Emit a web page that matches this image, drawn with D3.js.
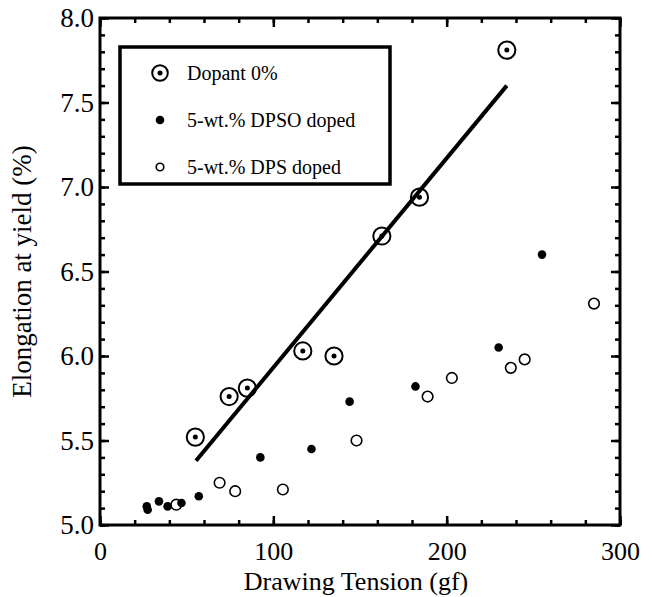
<!DOCTYPE html>
<html>
<head>
<meta charset="utf-8">
<script src="https://cdn.jsdelivr.net/npm/d3@7"></script>
<style>
  body { margin: 0; background: #fff; }
  text { font-family: "Liberation Serif", "Times New Roman", serif; fill: #000; }
</style>
</head>
<body>
<svg id="chart"></svg>
<script>
// Data
const dopantX = [55, 74.5, 85, 117, 135, 162.6, 184.3, 234.7];
const dopantY = [5.52, 5.76, 5.81, 6.03, 6.0, 6.71, 6.94, 7.81];

const dpsoX = [27, 27.5, 34, 39, 47, 57, 92.5, 122, 144, 182, 230, 255];
const dpsoY = [5.11, 5.09, 5.14, 5.11, 5.13, 5.17, 5.4, 5.45, 5.73, 5.82, 6.05, 6.6];

const dpsX = [44, 69, 78, 105.5, 148, 189, 203, 237, 245, 285];
const dpsY = [5.12, 5.25, 5.2, 5.21, 5.5, 5.76, 5.87, 5.93, 5.98, 6.31];

// fitted line through Dopant 0%
const fitX = [55.4, 234.7];
const fitY = [5.38, 7.6];

const xTicks = [0, 100, 200, 300];
const yTicks = [5.0, 5.5, 6.0, 6.5, 7.0, 7.5, 8.0];
const legendLabels = ["Dopant 0%", "5-wt.% DPSO doped", "5-wt.% DPS doped"];

// Dimensions
const W = 652, H = 597;
const margin = { top: 18, right: 32, bottom: 72, left: 100 };
const width = W - margin.left - margin.right;
const height = H - margin.top - margin.bottom;

const svg = d3.select("#chart").attr("width", W).attr("height", H);
const g = svg.append("g").attr("transform", `translate(${margin.left},${margin.top})`);

const x = d3.scaleLinear().domain([0, 300]).range([0, width]);
const y = d3.scaleLinear().domain([5, 8]).range([height, 0]);

const minorX = d3.range(0, 301, 20);
const minorY = d3.range(50, 81, 1).map((d) => d / 10);

// inward ticks on all four sides
function addAxis(axisFn, scale, ticks, size, labels, transform) {
  const ax = g.append("g")
    .attr("transform", transform)
    .call(axisFn(scale).tickValues(ticks).tickSizeInner(-size).tickSizeOuter(0)
      .tickPadding(axisFn === d3.axisBottom ? 17 : 6)
      .tickFormat(labels ? d3.format(".1f") : ""));
  ax.select(".domain").remove();
  ax.selectAll("line").attr("stroke", "#000").attr("stroke-width", 2.5);
  return ax;
}
addAxis(d3.axisBottom, x, minorX, 5, false, `translate(0,${height})`);
addAxis(d3.axisTop, x, minorX, 5, false, "translate(0,0)");
addAxis(d3.axisLeft, y, minorY, 5, false, "translate(0,0)");
addAxis(d3.axisRight, y, minorY, 5, false, `translate(${width},0)`);

const bx = addAxis(d3.axisBottom, x, xTicks, 9, true, `translate(0,${height})`);
bx.selectAll("text").text((d) => d).style("font-size", "26px");
addAxis(d3.axisTop, x, xTicks, 9, false, "translate(0,0)");
const ly = addAxis(d3.axisLeft, y, yTicks, 9, true, "translate(0,0)");
ly.selectAll("text").style("font-size", "27px");
addAxis(d3.axisRight, y, yTicks, 9, false, `translate(${width},0)`);

// frame
g.append("rect")
  .attr("width", width).attr("height", height)
  .attr("fill", "none").attr("stroke", "#000").attr("stroke-width", 3);

// axis titles
svg.append("text")
  .attr("x", margin.left + width / 2 - 4).attr("y", 590)
  .attr("text-anchor", "middle").style("font-size", "26px")
  .text("Drawing Tension (gf)");
svg.append("text")
  .attr("transform", `translate(31,${margin.top + height / 2}) rotate(-90)`)
  .attr("text-anchor", "middle").style("font-size", "27px")
  .text("Elongation at yield (%)");

// fit line
g.append("line")
  .attr("x1", x(fitX[0])).attr("y1", y(fitY[0]))
  .attr("x2", x(fitX[1])).attr("y2", y(fitY[1]))
  .attr("stroke", "#000").attr("stroke-width", 4);

// DPS doped (open)
g.selectAll(".dps").data(d3.zip(dpsX, dpsY)).enter().append("circle")
  .attr("class", "dps")
  .attr("cx", (d) => x(d[0])).attr("cy", (d) => y(d[1]))
  .attr("r", 5.3).attr("fill", "#fff").attr("stroke", "#000").attr("stroke-width", 1.6);

// DPSO doped (filled)
g.selectAll(".dpso").data(d3.zip(dpsoX, dpsoY)).enter().append("circle")
  .attr("class", "dpso")
  .attr("cx", (d) => x(d[0])).attr("cy", (d) => y(d[1]))
  .attr("r", 4.3).attr("fill", "#000");

// Dopant 0% (circle with dot)
const dop = g.selectAll(".dop").data(d3.zip(dopantX, dopantY)).enter().append("g")
  .attr("class", "dop")
  .attr("transform", (d) => `translate(${x(d[0])},${y(d[1])})`);
dop.append("circle").attr("r", 8.6).attr("fill", "none").attr("stroke", "#000").attr("stroke-width", 2);
dop.append("circle").attr("r", 2.5).attr("fill", "#000");

// legend
const legend = svg.append("g");
legend.append("rect")
  .attr("x", 120).attr("y", 47).attr("width", 270).attr("height", 137)
  .attr("fill", "#fff").attr("stroke", "#000").attr("stroke-width", 3.5);
const rowY = [73, 120, 167];
legendLabels.forEach((label, i) => {
  legend.append("text")
    .attr("x", 187).attr("y", rowY[i]).attr("dy", "0.35em")
    .style("font-size", "20px").text(label);
});
legend.append("circle").attr("cx", 160).attr("cy", rowY[0]).attr("r", 7.8)
  .attr("fill", "none").attr("stroke", "#000").attr("stroke-width", 2);
legend.append("circle").attr("cx", 160).attr("cy", rowY[0]).attr("r", 2.5).attr("fill", "#000");
legend.append("circle").attr("cx", 160).attr("cy", rowY[1]).attr("r", 4.3).attr("fill", "#000");
legend.append("circle").attr("cx", 160).attr("cy", rowY[2]).attr("r", 3.8)
  .attr("fill", "#fff").attr("stroke", "#000").attr("stroke-width", 1.6);
</script>
</body>
</html>
